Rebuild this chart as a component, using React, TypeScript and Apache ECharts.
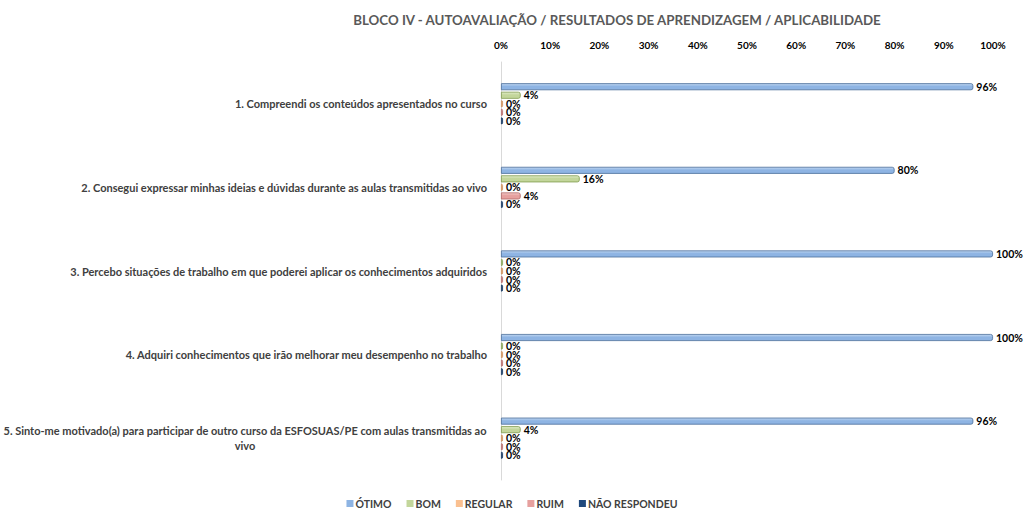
import React, { useEffect, useRef } from "react";
import * as echarts from "echarts";

const titleText = "BLOCO IV - AUTOAVALIAÇÃO / RESULTADOS DE APRENDIZAGEM / APLICABILIDADE";
const categories = [
  "1. Compreendi os conteúdos apresentados no curso",
  "2. Consegui expressar minhas ideias e dúvidas durante as aulas transmitidas ao vivo",
  "3. Percebo situações de trabalho em que poderei aplicar os conhecimentos adquiridos",
  "4. Adquiri conhecimentos que irão melhorar meu desempenho no trabalho",
  "5. Sinto-me motivado(a) para participar de outro curso da ESFOSUAS/PE com aulas transmitidas ao vivo",
];
const seriesNames = ["ÓTIMO", "BOM", "REGULAR", "RUIM", "NÃO RESPONDEU"];
const otimo = [96, 80, 100, 100, 96];
const bom = [4, 16, 0, 0, 4];
const regular = [0, 0, 0, 0, 0];
const ruim = [0, 4, 0, 0, 0];
const naoRespondeu = [0, 0, 0, 0, 0];
const seriesValues = [otimo, bom, regular, ruim, naoRespondeu];

const fills = ["#8EB4E3", "#C3D69B", "#FAC090", "#E6A09E", "#1F497D"];
const lights = ["#C2D8F2", "#E2EDCB", "#FDDCC0", "#F3CDCC", "#4A74A8"];
const borders = ["#4A6D99", "#7F9A4C", "#C88A56", "#B06664", "#17375E"];

const FONT = "Lato, 'Open Sans', sans-serif";

export default function App() {
  const ref = useRef<HTMLDivElement>(null);
  useEffect(() => {
    if (!ref.current) return;
    const chart = echarts.init(ref.current, undefined, { renderer: "svg" });
    chart.setOption({
      animation: false,
      backgroundColor: "#fff",
      title: {
        text: titleText,
        left: 612,
        textAlign: "center",
        top: 8,
        textStyle: { fontFamily: FONT, fontSize: 13.3, fontWeight: "bold", color: "#595959" },
      },
      legend: {
        data: seriesNames.map((n, i) => ({ name: n, itemStyle: { color: fills[i], borderWidth: 0 } })),
        bottom: 6,
        left: "center",
        itemWidth: 7,
        itemHeight: 7,
        itemGap: 15,
        icon: "rect",
        textStyle: { fontFamily: FONT, fontSize: 10.5, fontWeight: "bold", color: "#404040", padding: [0, 0, 0, -3] },
      },
      grid: { left: 497, right: 31, top: 62, bottom: 40, containLabel: false },
      xAxis: {
        type: "value",
        position: "top",
        min: 0,
        max: 100,
        interval: 10,
        axisLine: { show: false },
        axisTick: { show: false },
        splitLine: { show: false },
        axisLabel: {
          formatter: "{value}%",
          fontFamily: FONT,
          fontSize: 10,
          fontWeight: "bold",
          color: "#000",
          margin: 12,
        },
      },
      yAxis: {
        type: "category",
        inverse: true,
        data: categories,
        axisLine: { show: true, lineStyle: { color: "#D9D9D9" } },
        axisTick: { show: false },
        axisLabel: {
          fontFamily: FONT,
          fontSize: 11,
          fontWeight: "bold",
          color: "#404040",
          margin: 14,
          lineHeight: 15,
          formatter: (v: string) => {
            if (v.startsWith("5.") && v.endsWith(" ao vivo")) {
              return "{c|" + v.slice(0, v.length - 5) + "}\n{c|vivo}";
            }
            return v;
          },
          rich: {
            c: {
              width: 484,
              align: "center",
              fontFamily: FONT,
              fontSize: 11,
              fontWeight: "bold",
              color: "#404040",
              lineHeight: 15,
            },
          },
        },
      },
      series: seriesNames.map((name, i) => ({
        name,
        type: "bar",
        data: seriesValues[i],
        barWidth: 7,
        barGap: "22%",
        barMinHeight: 2,
        itemStyle: {
          color: new echarts.graphic.LinearGradient(0, 0, 0, 1, [
            { offset: 0, color: lights[i] },
            { offset: 0.45, color: fills[i] },
            { offset: 1, color: fills[i] },
          ]),
          borderColor: borders[i],
          borderWidth: 0.8,
          borderRadius: [0, 2, 2, 0],
        },
        label: {
          show: true,
          position: "right",
          distance: 3,
          formatter: "{c}%",
          fontFamily: FONT,
          fontSize: 10.5,
          lineHeight: 9,
          fontWeight: "bold",
          color: "#000",
        },
      })),
    });
    return () => chart.dispose();
  }, []);
  return <div ref={ref} style={{ width: 1024, height: 520, position: "absolute", left: 0, top: 0 }} />;
}
